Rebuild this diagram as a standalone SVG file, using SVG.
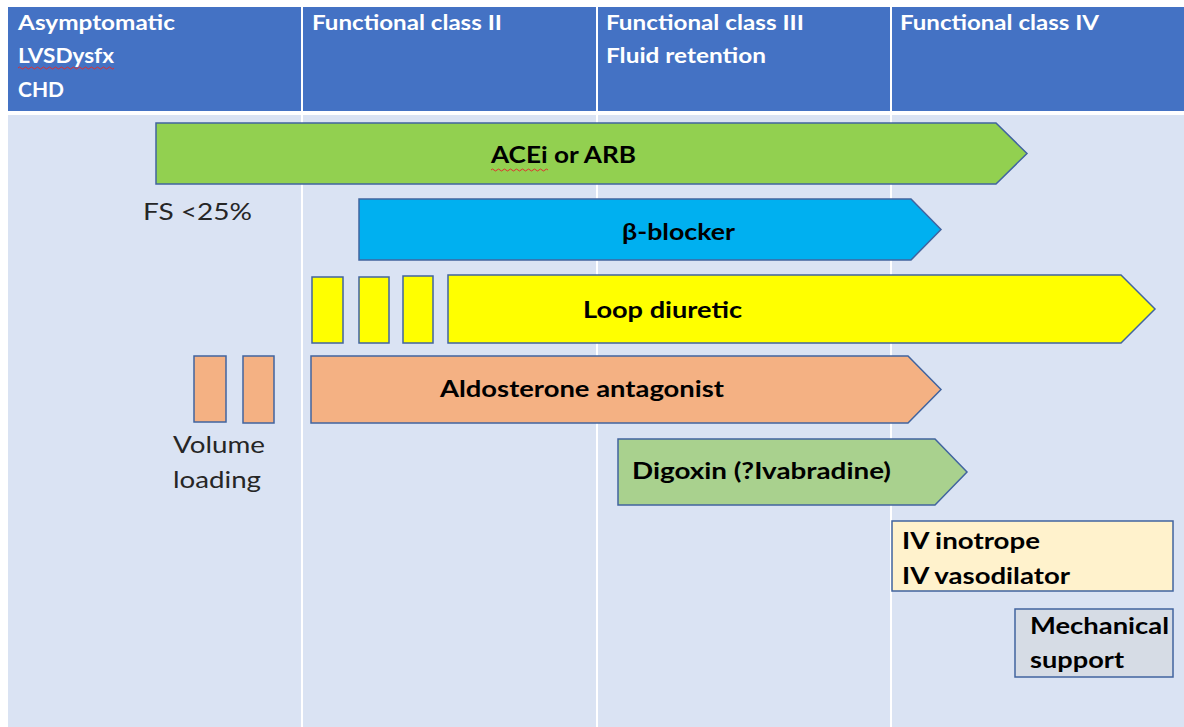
<svg xmlns="http://www.w3.org/2000/svg" width="1184" height="727" viewBox="0 0 1184 727">
<style>
.hdr{font-family:Lato,"Open Sans","Liberation Sans",sans-serif;font-weight:bold;font-size:20px;fill:#ffffff}
.lbl{font-family:Lato,"Open Sans","Liberation Sans",sans-serif;font-weight:bold;font-size:23px;fill:#000000}
.reg{font-family:Lato,"Open Sans","Liberation Sans",sans-serif;font-size:23px;fill:#262626}
.shp{stroke:#41649F;stroke-width:1.5}
.squig{fill:none;stroke:#E03030;stroke-width:1}
</style>
<rect x="0" y="0" width="1184" height="727" fill="#ffffff"/>
<g id="table">
<rect x="8" y="7" width="1176" height="104" fill="#4472C4"/>
<rect x="8" y="115" width="1176" height="612" fill="#DAE3F3"/>
<g stroke="#ffffff" stroke-width="2">
<line x1="302" y1="7" x2="302" y2="727"/>
<line x1="597" y1="7" x2="597" y2="727"/>
<line x1="891" y1="7" x2="891" y2="727"/>
</g>
</g>
<g id="header-asym">
<text class="hdr" x="18" y="30" textLength="157" lengthAdjust="spacingAndGlyphs">Asymptomatic</text>
<text class="hdr" x="18" y="63" textLength="96" lengthAdjust="spacingAndGlyphs">LVSDysfx</text>
<path class="squig" d="M18 68 q1.5 -2 3 0 t3 0 t3 0 t3 0 t3 0 t3 0 t3 0 t3 0 t3 0 t3 0 t3 0 t3 0 t3 0 t3 0 t3 0 t3 0 t3 0 t3 0 t3 0 t3 0 t3 0 t3 0 t3 0 t3 0 t3 0 t3 0 t3 0 t3 0 t3 0 t3 0 t3 0 t3 0"/>
<text class="hdr" x="18" y="97" textLength="46" lengthAdjust="spacingAndGlyphs">CHD</text>
</g>
<g id="header-fc2">
<text class="hdr" x="312" y="30" textLength="190" lengthAdjust="spacingAndGlyphs">Functional class II</text>
</g>
<g id="header-fc3">
<text class="hdr" x="606" y="30" textLength="198" lengthAdjust="spacingAndGlyphs">Functional class III</text>
<text class="hdr" x="606" y="63" textLength="160" lengthAdjust="spacingAndGlyphs">Fluid retention</text>
</g>
<g id="header-fc4">
<text class="hdr" x="900" y="30" textLength="199" lengthAdjust="spacingAndGlyphs">Functional class IV</text>
</g>
<g id="acei">
<path class="shp" d="M156 123 H996 L1027 153.5 L996 184 H156 Z" fill="#92D050"/>
<text class="lbl" x="491" y="163" textLength="145" lengthAdjust="spacingAndGlyphs">ACEi or ARB</text>
<path class="squig" d="M491 170 q1.5 -2 3 0 t3 0 t3 0 t3 0 t3 0 t3 0 t3 0 t3 0 t3 0 t3 0 t3 0 t3 0 t3 0 t3 0 t3 0 t3 0 t3 0 t3 0 t3 0"/>
</g>
<g id="fs">
<text class="reg" x="143" y="220" textLength="109" lengthAdjust="spacingAndGlyphs">FS &lt;25%</text>
</g>
<g id="beta">
<path class="shp" d="M359 199 H911 L941 229.5 L911 260 H359 Z" fill="#00B0F0"/>
<text class="lbl" x="622" y="240" textLength="113" lengthAdjust="spacingAndGlyphs">β-blocker</text>
</g>
<g id="loop">
<rect class="shp" x="312" y="277" width="31" height="66" fill="#FFFF00"/>
<rect class="shp" x="359" y="277" width="30" height="66" fill="#FFFF00"/>
<rect class="shp" x="403" y="276" width="30" height="67" fill="#FFFF00"/>
<path class="shp" d="M448 275 H1121 L1155 309 L1121 343 H448 Z" fill="#FFFF00"/>
<text class="lbl" x="583" y="318" textLength="159" lengthAdjust="spacingAndGlyphs">Loop diuretic</text>
</g>
<g id="aldo">
<path class="shp" d="M311 356 H908 L941 389.5 L908 423 H311 Z" fill="#F4B183"/>
<text class="lbl" x="440" y="397" textLength="284" lengthAdjust="spacingAndGlyphs">Aldosterone antagonist</text>
</g>
<g id="volume">
<rect class="shp" x="194" y="356" width="32" height="66" fill="#F4B183"/>
<rect class="shp" x="243" y="356" width="31" height="67" fill="#F4B183"/>
<text class="reg" x="173" y="453" textLength="92" lengthAdjust="spacingAndGlyphs">Volume</text>
<text class="reg" x="173" y="488" textLength="88" lengthAdjust="spacingAndGlyphs">loading</text>
</g>
<g id="digoxin">
<path class="shp" d="M618 439 H935 L967 472 L935 505 H618 Z" fill="#A9D18E"/>
<text class="lbl" x="632" y="479" textLength="259" lengthAdjust="spacingAndGlyphs">Digoxin (?Ivabradine)</text>
</g>
<g id="iv">
<rect class="shp" x="892" y="521" width="281" height="70" fill="#FFF2CC"/>
<text class="lbl" x="902" y="549" textLength="138" lengthAdjust="spacingAndGlyphs">IV inotrope</text>
<text class="lbl" x="902" y="584" textLength="168" lengthAdjust="spacingAndGlyphs">IV vasodilator</text>
</g>
<g id="mech">
<rect class="shp" x="1015" y="609" width="158" height="68" fill="#D6DCE5"/>
<text class="lbl" x="1030" y="634" textLength="139" lengthAdjust="spacingAndGlyphs">Mechanical</text>
<text class="lbl" x="1030" y="668" textLength="94" lengthAdjust="spacingAndGlyphs">support</text>
</g>
<g id="connectors"></g>
</svg>
